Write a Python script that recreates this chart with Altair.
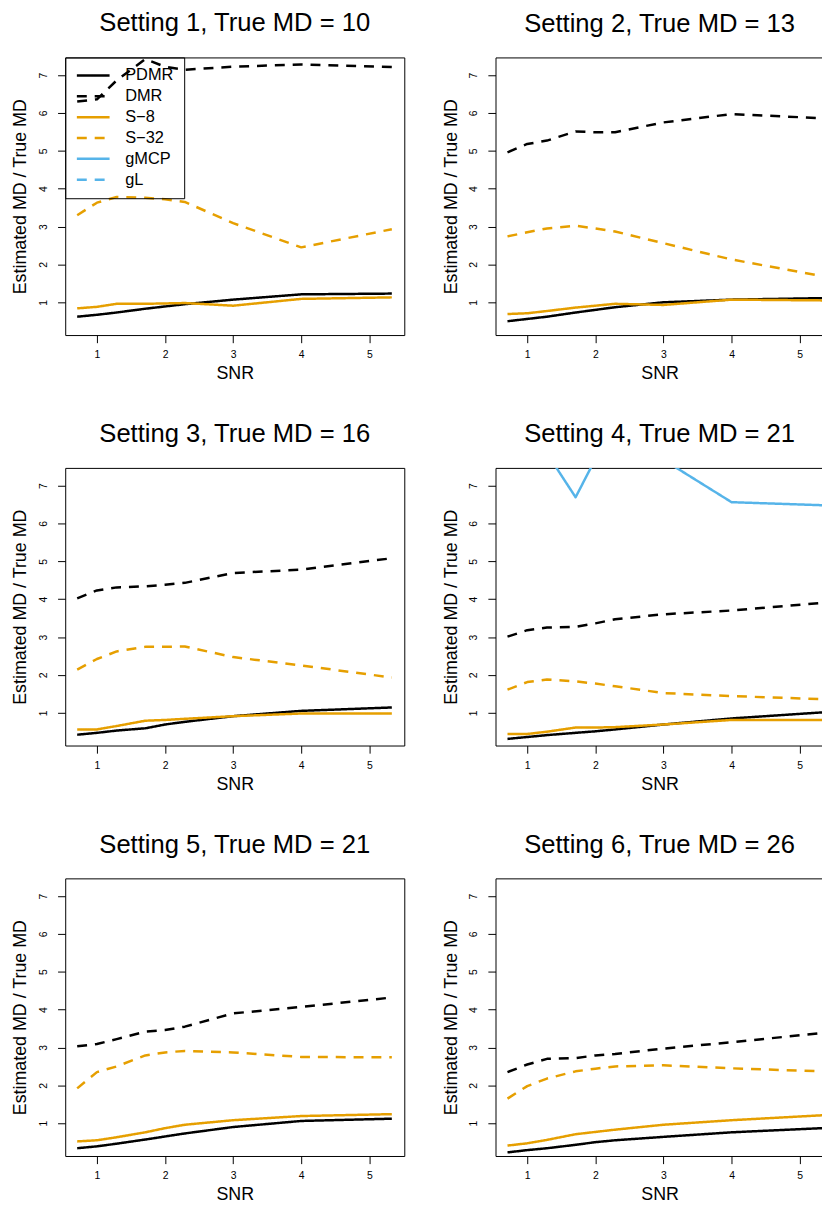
import altair as alt
import pandas as pd

# ---------------- data ----------------
snr = [0.71, 1.0, 1.29, 1.71, 2.0, 2.29, 3.0, 4.0, 5.33]
methods = ["PDMR", "DMR", "S\u22128", "S\u221232", "gMCP", "gL"]
true_md = [10, 13, 16, 21, 21, 26]

pdmr = [
    [0.62, 0.67, 0.73, 0.83, 0.89, 0.95, 1.07, 1.21, 1.23],
    [0.50, 0.56, 0.62, 0.73, 0.80, 0.87, 1.00, 1.07, 1.11],
    [0.42, 0.47, 0.53, 0.59, 0.69, 0.76, 0.91, 1.05, 1.14],
    [0.31, 0.36, 0.41, 0.47, 0.51, 0.56, 0.69, 0.85, 1.01],
    [0.34, 0.39, 0.46, 0.57, 0.65, 0.73, 0.90, 1.06, 1.12],
    [0.23, 0.29, 0.34, 0.43, 0.50, 0.55, 0.64, 0.76, 0.87],
]
dmr = [
    [6.30, 6.36, 6.86, 7.42, 7.22, 7.14, 7.22, 7.28, 7.21],
    [4.96, 5.18, 5.27, 5.51, 5.49, 5.49, 5.75, 5.97, 5.86],
    [4.02, 4.23, 4.31, 4.34, 4.38, 4.43, 4.69, 4.78, 5.08],
    [3.01, 3.18, 3.25, 3.27, 3.36, 3.47, 3.60, 3.70, 3.90],
    [3.03, 3.09, 3.22, 3.42, 3.46, 3.55, 3.90, 4.07, 4.32],
    [2.35, 2.55, 2.70, 2.72, 2.79, 2.83, 2.97, 3.14, 3.38],
]
s8 = [
    [0.84, 0.88, 0.96, 0.96, 0.97, 0.98, 0.91, 1.09, 1.13],
    [0.69, 0.71, 0.77, 0.86, 0.91, 0.96, 0.93, 1.07, 1.05],
    [0.56, 0.56, 0.65, 0.79, 0.81, 0.84, 0.91, 0.98, 0.98],
    [0.44, 0.44, 0.50, 0.61, 0.61, 0.62, 0.69, 0.81, 0.81],
    [0.52, 0.55, 0.63, 0.76, 0.87, 0.96, 1.08, 1.19, 1.24],
    [0.41, 0.47, 0.56, 0.71, 0.77, 0.83, 0.96, 1.08, 1.21],
]
s32 = [
    [3.30, 3.63, 3.78, 3.76, 3.72, 3.65, 3.09, 2.45, 2.93],
    [2.74, 2.85, 2.95, 3.02, 2.95, 2.87, 2.56, 2.13, 1.69],
    [2.14, 2.42, 2.62, 2.74, 2.74, 2.75, 2.47, 2.25, 1.93],
    [1.61, 1.81, 1.88, 1.83, 1.77, 1.70, 1.52, 1.44, 1.36],
    [1.92, 2.35, 2.50, 2.79, 2.87, 2.91, 2.87, 2.75, 2.74],
    [1.65, 1.98, 2.18, 2.37, 2.44, 2.50, 2.53, 2.45, 2.37],
]
# only the visible part of gMCP (setting 4) can be read; the rest lies above the plot
gmcp = [None, None, None,
        [9.00, 8.50, 7.85, 6.69, 7.70, 8.00, 7.68, 6.56, 6.48],
        None, None]
gl = [None, None, None, None, None, None]

series = [pdmr, dmr, s8, s32, gmcp, gl]

# ---------------- styling ----------------
FONT = "Liberation Sans"
colors = ["#000000", "#000000", "#E69F00", "#E69F00", "#56B4E9", "#56B4E9"]
dashes = [[1, 0], [10, 8], [1, 0], [10, 8], [1, 0], [10, 8]]

W_LEFT = 342
W_RIGHT = 331
H = 280
ROW_GAP = 134
COL_GAP = 92
PAD_LEFT = 57.7
PAD_TOP = 44.7
SVG_W = 821
SVG_H = 1201
X0 = 0.534
X_UNIT = W_LEFT / (5.513 - X0)
Y_DOMAIN = [0.135, 7.465]


def make_panel(i):
    rows = []
    for m, s in zip(methods, series):
        vals = s[i]
        if vals is None:
            continue
        for x, v in zip(snr, vals):
            rows.append({"snr": x, "value": v, "method": m})
    df = pd.DataFrame(rows)

    w = W_RIGHT if i % 2 else W_LEFT
    xdom = [X0, X0 + w / X_UNIT]

    if i == 0:
        legend = alt.Legend(
            orient="none", legendX=0, legendY=0, title=None,
            labelFont=FONT, labelFontSize=16.5, labelColor="black",
            symbolType="M-3,0H3", symbolSize=121, symbolStrokeWidth=2.5,
            symbolOffset=10, labelOffset=24, padding=10, rowPadding=4,
            strokeColor="black", labelLimit=200,
        )
    else:
        legend = None

    x = alt.X(
        "snr:Q",
        scale=alt.Scale(domain=xdom, nice=False, zero=False),
        axis=alt.Axis(
            values=[1, 2, 3, 4, 5], format="d", title="SNR", grid=False,
            domain=False, tickSize=7.7, tickColor="black", tickWidth=1,
            labelFont=FONT, labelFontSize=10.5, labelColor="black",
            labelPadding=7, labelFlush=False, labelOverlap=False,
            titleFont=FONT, titleFontSize=18, titleFontWeight="normal",
            titleColor="black", titlePadding=5,
        ),
    )
    y = alt.Y(
        "value:Q",
        scale=alt.Scale(domain=Y_DOMAIN, nice=False, zero=False),
        axis=alt.Axis(
            values=[1, 2, 3, 4, 5, 6, 7], format="d",
            title="Estimated MD / True MD", grid=False, domain=False,
            tickSize=7.7, tickColor="black", tickWidth=1,
            labelFont=FONT, labelFontSize=10.5, labelColor="black",
            labelAngle=270, labelAlign="center", labelBaseline="bottom",
            labelPadding=9, labelFlush=False, labelOverlap=False,
            titleFont=FONT, titleFontSize=18, titleFontWeight="normal",
            titleColor="black", titlePadding=9,
        ),
    )
    color = alt.Color("method:N", scale=alt.Scale(domain=methods, range=colors), legend=legend)
    dash = alt.StrokeDash("method:N", scale=alt.Scale(domain=methods, range=dashes), legend=legend)

    return (
        alt.Chart(df)
        .mark_line(strokeWidth=2.5, clip=True, strokeJoin="round")
        .encode(x=x, y=y, color=color, strokeDash=dash)
        .properties(
            width=w, height=H,
            title=alt.TitleParams(
                text=f"Setting {i + 1}, True MD = {true_md[i]}",
                font=FONT, fontSize=25.8, fontWeight="normal", color="black",
                anchor="middle", frame="group", baseline="alphabetic", offset=0,
            ),
        )
    )


panels = [make_panel(i) for i in range(6)]

chart = (
    alt.concat(*panels, columns=2, spacing={"row": ROW_GAP, "column": COL_GAP}, bounds="flush")
    .resolve_scale(x="independent", y="independent", color="independent", strokeDash="independent")
    .resolve_legend(color="independent", strokeDash="independent")
    .properties(
        autosize=alt.AutoSizeParams(type="none"),
        padding={"left": PAD_LEFT, "top": PAD_TOP,
                 "right": SVG_W - PAD_LEFT, "bottom": SVG_H - PAD_TOP},
        background="white",
    )
    .configure_view(stroke="black", strokeWidth=1)
)

chart.save("out.html", embed_options={"renderer": "svg", "actions": False})
